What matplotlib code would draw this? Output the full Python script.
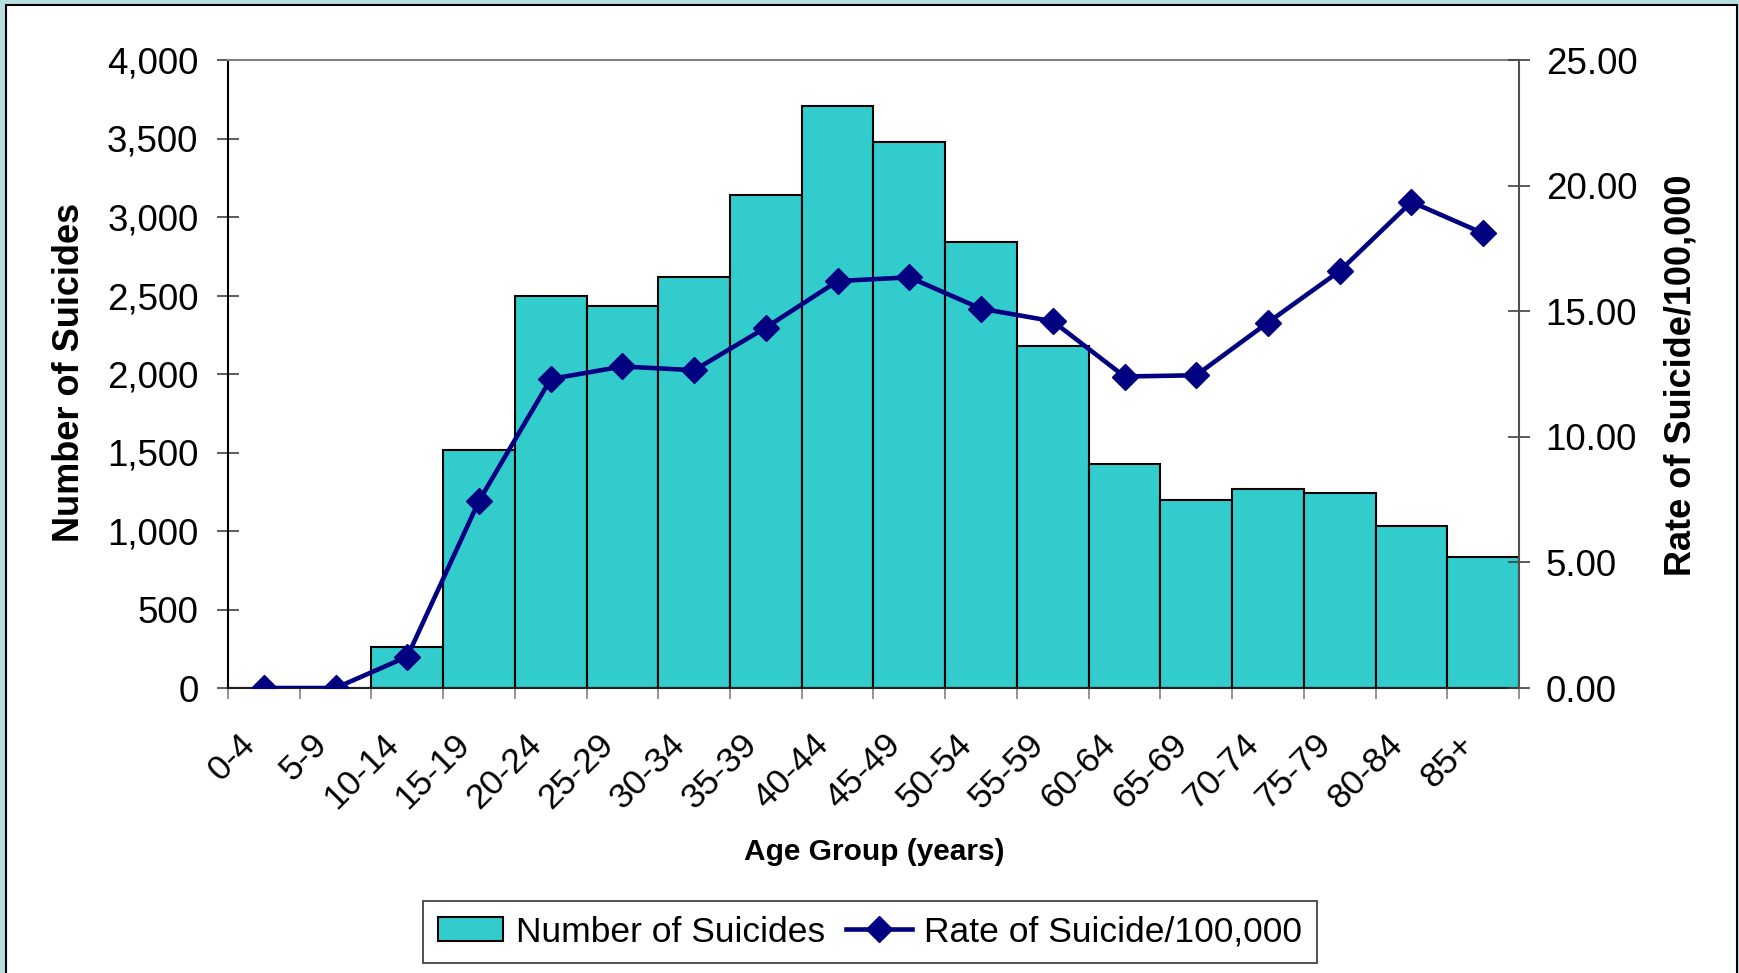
import numpy as np
import matplotlib
matplotlib.use("Agg")
import matplotlib.pyplot as plt
from matplotlib.patches import Rectangle
from matplotlib.transforms import ScaledTranslation
from matplotlib.ticker import FixedLocator, StrMethodFormatter, NullFormatter

plt.rcParams['font.family'] = ['Liberation Sans', 'DejaVu Sans']

# data (bars sit one slot right of their labels, as in the original)
age_groups = ['0-4', '5-9', '10-14', '15-19', '20-24', '25-29', '30-34', '35-39',
              '40-44', '45-49', '50-54', '55-59', '60-64', '65-69', '70-74',
              '75-79', '80-84', '85+']
suicides = [0, 0, 258, 1515, 2500, 2430, 2620, 3140, 3710, 3475, 2840, 2180,
            1425, 1195, 1270, 1240, 1035, 835]
rate = [0.0, 0.0, 1.25, 7.45, 12.3, 12.8, 12.65, 14.35, 16.2, 16.35, 15.1, 14.6,
        12.4, 12.45, 14.55, 16.6, 19.35, 18.1]

bar_color = '#33CCCC'
line_color = '#000080'
bg_color = '#B8DEE2'

fig = plt.figure(figsize=(17.39, 9.73), dpi=100, facecolor=bg_color)
# white chart panel with black frame
fig.patches.append(Rectangle((6 / 1739, -0.05), 1731 / 1739, 1.05 - 5 / 973,
                             transform=fig.transFigure, facecolor='white',
                             edgecolor='black', linewidth=1.5, zorder=-10))

ax = fig.add_axes([228 / 1739, 1 - 688 / 973, 1291 / 1739, 628 / 973])
ax.set_facecolor('none')
x = np.arange(len(age_groups))

bars = ax.bar(x, suicides, width=1.0, color=bar_color, edgecolor='black',
              linewidth=1.5, label='Number of Suicides', zorder=2)

ax.set_xlim(-0.5, len(age_groups) - 0.5)
ax.set_ylim(0, 4000)
ax.yaxis.set_major_locator(FixedLocator(np.arange(0, 4001, 500)))
ax.yaxis.set_major_formatter(StrMethodFormatter('{x:,.0f}'))
ax.tick_params(axis='y', direction='inout', length=16.5, width=1.2,
               color='#404040', labelsize=26.5, pad=13)

# x ticks at slot edges, labels at slot centres
ax.xaxis.set_major_locator(FixedLocator(np.arange(-0.5, len(age_groups), 1.0)))
ax.xaxis.set_major_formatter(NullFormatter())
ax.set_xticks(x, age_groups, minor=True)
ax.tick_params(axis='x', which='major', direction='out', length=8, width=1.2,
               color='#808080')
ax.tick_params(axis='x', which='minor', length=0, labelsize=25.5, pad=37)
shift = ScaledTranslation(-14 / 100, 0, fig.dpi_scale_trans)
for lbl in ax.get_xticklabels(minor=True):
    lbl.set_rotation(45)
    lbl.set_ha('right')
    lbl.set_va('center')
    lbl.set_rotation_mode('anchor')
    lbl.set_transform(lbl.get_transform() + shift)

ax.spines['top'].set_color('#808080')
ax.spines['top'].set_linewidth(1.5)
ax.spines['left'].set_color('black')
ax.spines['left'].set_linewidth(1.5)
ax.spines['bottom'].set_color('#202020')
ax.spines['bottom'].set_linewidth(1.5)
ax.spines['right'].set_visible(False)

ax2 = ax.twinx()
ax2.plot(x, rate, color=line_color, linewidth=3.3, marker='D', markersize=13.5,
         markerfacecolor=line_color, markeredgecolor=line_color,
         label='Rate of Suicide/100,000', zorder=3)
ax2.set_ylim(0, 25)
ax2.yaxis.set_major_locator(FixedLocator(np.arange(0, 25.01, 5)))
ax2.yaxis.set_major_formatter(StrMethodFormatter('{x:.2f}'))
ax2.tick_params(axis='y', direction='inout', length=16.5, width=1.2,
                color='#404040', labelsize=26.5, pad=11)
for s in ['top', 'left', 'bottom']:
    ax2.spines[s].set_visible(False)
ax2.spines['right'].set_color('#505050')
ax2.spines['right'].set_linewidth(1.5)

# axis titles
fig.text(70 / 1739, 1 - 372 / 973, 'Number of Suicides', rotation=90,
         ha='center', va='center', fontsize=26, fontweight='bold')
fig.text(1681 / 1739, 1 - 375 / 973, 'Rate of Suicide/100,000', rotation=90,
         ha='center', va='center', fontsize=26, fontweight='bold')
fig.text(874 / 1739, 1 - 852 / 973, 'Age Group (years)',
         ha='center', va='center', fontsize=21.5, fontweight='bold')

h1, l1 = ax.get_legend_handles_labels()
h2, l2 = ax2.get_legend_handles_labels()
leg = fig.legend(h1 + h2, l1 + l2, loc='center', ncol=2,
                 bbox_to_anchor=(870 / 1739, 1 - 932 / 973), fontsize=25.5,
                 frameon=True, fancybox=False, shadow=False, handlelength=1.85,
                 handleheight=0.65, handletextpad=0.35, columnspacing=0.6,
                 borderpad=0.42, borderaxespad=0)
leg.get_frame().set_edgecolor('black')
leg.get_frame().set_linewidth(1.2)

fig.savefig('out.png', dpi=100, facecolor=bg_color)
